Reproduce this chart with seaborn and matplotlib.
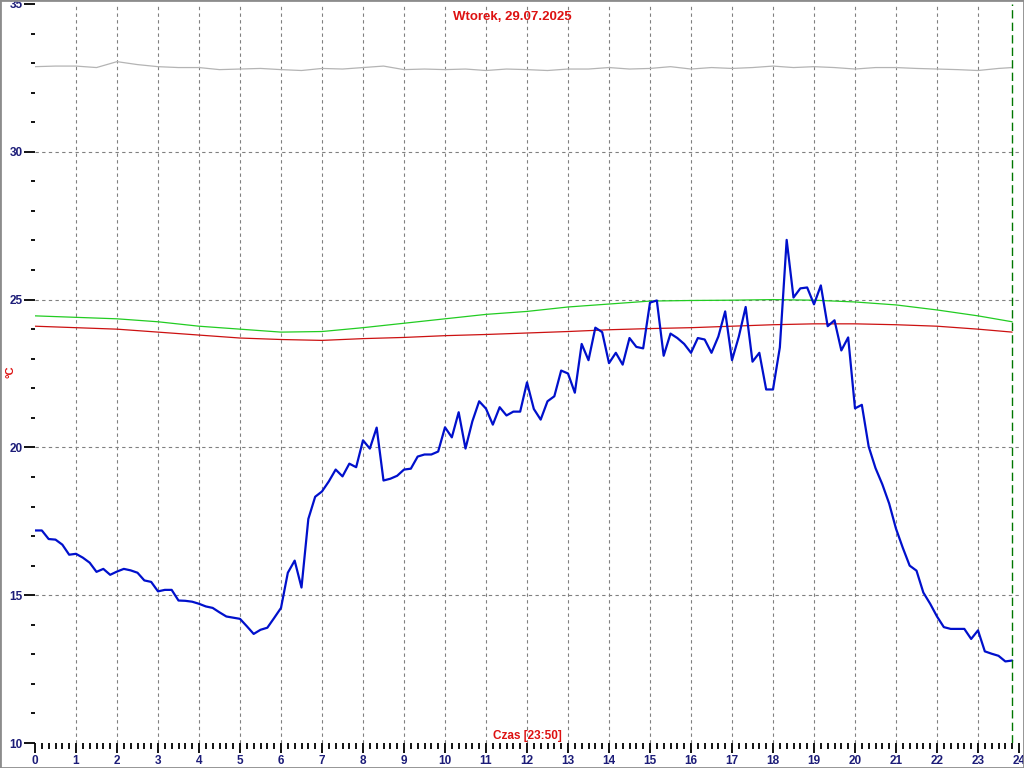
import numpy as np
import pandas as pd
import matplotlib
matplotlib.use("Agg")
import matplotlib.pyplot as plt
import seaborn as sns

# blue series: 10-minute readings from 00:00 to 23:50
temp_blue = [
    17.19, 17.19, 16.90, 16.88, 16.71, 16.37,
    16.40, 16.27, 16.10, 15.79, 15.89, 15.69,
    15.80, 15.89, 15.84, 15.76, 15.50, 15.45,
    15.13, 15.18, 15.18, 14.82, 14.81, 14.78,
    14.71, 14.62, 14.57, 14.42, 14.28, 14.24,
    14.20, 13.95, 13.69, 13.83, 13.90, 14.23,
    14.57, 15.76, 16.17, 15.26, 17.58, 18.33,
    18.51, 18.85, 19.25, 19.02, 19.45, 19.33,
    20.24, 19.96, 20.67, 18.88, 18.94, 19.04,
    19.25, 19.28, 19.69, 19.76, 19.76, 19.86,
    20.68, 20.34, 21.19, 19.96, 20.88, 21.56,
    21.31, 20.77, 21.36, 21.08, 21.21, 21.21,
    22.20, 21.30, 20.94, 21.56, 21.73, 22.60,
    22.50, 21.85, 23.50, 22.95, 24.05, 23.90,
    22.85, 23.20, 22.80, 23.70, 23.40, 23.35,
    24.90, 24.97, 23.10, 23.85, 23.70, 23.50,
    23.20, 23.70, 23.65, 23.20, 23.75, 24.60,
    22.95, 23.75, 24.75, 22.90, 23.20, 21.96,
    21.96, 23.38, 27.02, 25.07, 25.38, 25.41,
    24.84, 25.48, 24.10, 24.30, 23.28, 23.72,
    21.32, 21.44, 20.03, 19.30, 18.75, 18.10,
    17.25, 16.60, 16.00, 15.83, 15.09, 14.71,
    14.28, 13.92, 13.86, 13.86, 13.86, 13.52,
    13.81, 13.10, 13.02, 12.95, 12.76, 12.79,
]
hours_blue = np.arange(len(temp_blue)) / 6

# hourly readings (0..23 and 23:50)
hours_hourly = list(range(24)) + [23 + 50 / 60]
temp_green = [24.45, 24.40, 24.35, 24.25, 24.10, 24.00, 23.90, 23.92, 24.05, 24.20,
              24.35, 24.50, 24.60, 24.75, 24.85, 24.95, 24.97, 24.98, 25.00, 24.98,
              24.92, 24.82, 24.65, 24.45, 24.25]
temp_red = [24.10, 24.05, 24.00, 23.90, 23.80, 23.70, 23.65, 23.62, 23.68, 23.72,
            23.78, 23.82, 23.87, 23.92, 23.98, 24.02, 24.05, 24.10, 24.15, 24.18,
            24.18, 24.15, 24.10, 24.00, 23.90]

# grey series: half-hour readings
hours_grey = list(np.arange(48) * 0.5) + [23 + 50 / 60]
temp_grey = [32.88, 32.90, 32.90, 32.85, 33.05, 32.95, 32.88, 32.85, 32.85, 32.78,
             32.80, 32.82, 32.78, 32.75, 32.82, 32.80, 32.85, 32.90, 32.78, 32.80,
             32.78, 32.80, 32.75, 32.80, 32.78, 32.75, 32.80, 32.80, 32.85, 32.80,
             32.82, 32.88, 32.80, 32.85, 32.82, 32.85, 32.90, 32.85, 32.88, 32.85,
             32.80, 32.85, 32.85, 32.82, 32.80, 32.78, 32.75, 32.82, 32.85]

last_time = 23 + 50 / 60
x_ticks = list(range(25))
y_ticks = [10, 15, 20, 25, 30, 35]

sns.set_style("white")
plt.rcParams['font.family'] = ['Liberation Sans', 'DejaVu Sans']

navy = "#1c1c78"
fig = plt.figure(figsize=(10.24, 7.68), dpi=100)
ax = fig.add_axes([35 / 1024, 25 / 768, 984 / 1024, 739 / 768])

sns.lineplot(x=hours_grey, y=temp_grey, ax=ax, color="#b4b4b4", linewidth=0.9)
sns.lineplot(x=hours_hourly, y=temp_green, ax=ax, color="#22cc22", linewidth=0.9)
sns.lineplot(x=hours_hourly, y=temp_red, ax=ax, color="#cc1111", linewidth=0.9)
sns.lineplot(x=hours_blue, y=temp_blue, ax=ax, color="#0010cc", linewidth=1.6)

ax.axvline(last_time, color="#007700", linestyle=(0, (6, 3)), linewidth=1)

ax.set_xlim(0, 24)
ax.set_ylim(10, 35)
ax.set_xticks(x_ticks)
ax.set_xticks(np.arange(0, 24, 1 / 6), minor=True)
ax.set_yticks(y_ticks)
ax.set_yticks(range(10, 36), minor=True)
ax.set_xticklabels([str(t) for t in x_ticks], color=navy, fontsize=8.5, fontweight="bold")
ax.set_yticklabels([str(t) for t in y_ticks], color=navy, fontsize=8.5, fontweight="bold")
ax.tick_params(axis="x", which="both", bottom=True)
ax.tick_params(axis="y", which="both", left=True)
ax.tick_params(axis="x", which="major", direction="out", length=7, width=1.3, color="black", pad=2)
ax.tick_params(axis="x", which="minor", direction="out", length=4, width=1.3, color="black")
ax.tick_params(axis="y", which="major", direction="out", length=8, width=1.3, color="black", pad=1)
ax.tick_params(axis="y", which="minor", direction="out", length=3, width=1.3, color="black")

for s in ax.spines.values():
    s.set_visible(False)

ax.grid(True, which="major", color="#808080", linestyle=(0, (3, 3)), linewidth=0.8)
ax.set_axisbelow(True)
# no grid line on the chart edges
for g in [ax.get_xgridlines()[0], ax.get_xgridlines()[-1],
          ax.get_ygridlines()[0], ax.get_ygridlines()[-1]]:
    g.set_visible(False)

ax.set_xlabel("")
ax.set_ylabel("")
ax.text(12, 10.05, "Czas [23:50]", color="#dd1111", fontsize=8.5, fontweight="bold",
        ha="center", va="bottom")
fig.text(0.5, 1 - 17 / 768, "Wtorek, 29.07.2025", color="#dd1111", fontsize=9.5,
         fontweight="bold", ha="center", va="center")
fig.text(10 / 1024, 1 - 372 / 768, "°C", color="#dd1111", fontsize=8, fontweight="bold",
         rotation=90, ha="center", va="center")

# grey frame around the picture
fig.patches.append(plt.Rectangle((0, 0), 1, 1, transform=fig.transFigure, fill=False,
                                 edgecolor="#8c8c8c", linewidth=2))

fig.savefig("out.png", dpi=100)
